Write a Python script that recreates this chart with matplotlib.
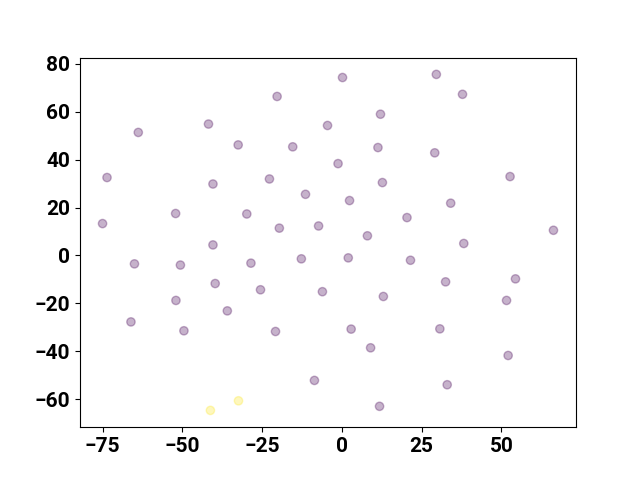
import numpy as np
import matplotlib
matplotlib.use("Agg")
import matplotlib.pyplot as plt

# embedding coordinates
xs = [0.2, 29.6, 37.8, -20.3, -41.8, -63.8, -4.5, 12.1, -32.5, -15.4,
      11.3, 29.1, -1.2, -73.6, -40.4, -22.7, 12.7, 52.7, -11.4, 2.4,
      34.1, -52.1, -29.8, 20.4, -75.0, -19.6, -7.3, 66.3, 8.0, 38.2,
      -40.4, -65.0, -50.6, -28.5, -12.7, 2.0, 21.5, 54.4, 32.5, -39.7,
      -25.5, -6.1, 13.0, -52.0, 51.6, -66.1, -35.9, -49.5, -20.8, 2.9,
      30.7, 9.0, 52.1, -8.6, 33.0, 11.8, -32.4, -41.2]
ys = [74.2, 75.5, 67.2, 66.3, 54.8, 51.3, 54.2, 58.9, 46.1, 45.3,
      45.0, 42.8, 38.3, 32.5, 29.8, 31.9, 30.4, 32.9, 25.5, 22.9,
      21.8, 17.5, 17.3, 15.8, 13.3, 11.4, 12.3, 10.5, 8.2, 5.0,
      4.4, -3.5, -4.0, -3.2, -1.4, -1.0, -2.0, -9.75, -11.0, -11.7,
      -14.3, -15.1, -17.1, -18.75, -18.75, -27.7, -23.1, -31.4, -31.7, -30.7,
      -30.6, -38.5, -41.7, -52.1, -53.9, -62.9, -60.6, -64.6]
labels = [0] * 56 + [1, 1]

plt.rcParams['font.family'] = ['Roboto', 'DejaVu Sans']
plt.rcParams['font.weight'] = 'bold'

fig, ax = plt.subplots(figsize=(6.4, 4.8), dpi=100)
ax.scatter(xs, ys, c=labels, cmap='viridis', alpha=0.3)
ax.tick_params(labelsize=15)
for lbl in ax.get_xticklabels() + ax.get_yticklabels():
    lbl.set_fontweight('bold')

fig.savefig("out.png")
